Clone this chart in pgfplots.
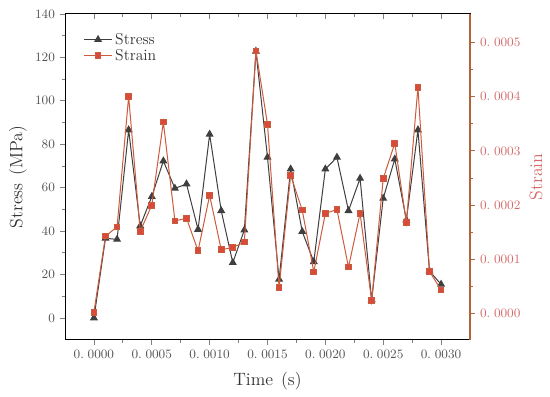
\documentclass[border=0pt]{standalone}
\usepackage{pgfplots}
\usepackage{pgfplotstable}
\pgfplotsset{compat=1.18}
\usetikzlibrary{calc}
\definecolor{stresscol}{HTML}{3F3F3F}
\definecolor{straincol}{HTML}{CC5A3C}
\definecolor{strainmk}{HTML}{D84A3A}
\definecolor{raxis}{HTML}{B0643C}
\definecolor{rlab}{HTML}{D46A6A}
\definecolor{ticklab}{HTML}{555555}

\pgfplotstableread{
t s
0.0000 0
0.0001 36.7
0.0002 36.2
0.0003 86.6
0.0004 42.4
0.0005 55.9
0.0006 72.3
0.0007 59.7
0.0008 61.7
0.0009 40.8
0.0010 84.6
0.0011 49.4
0.0012 25.5
0.0013 40.5
0.0014 122.8
0.0015 74.0
0.0016 17.8
0.0017 68.6
0.0018 39.8
0.0019 25.9
0.0020 68.6
0.0021 74.0
0.0022 49.4
0.0023 64.3
0.0024 8.3
0.0025 55.1
0.0026 73.2
0.0027 45.1
0.0028 86.6
0.0029 21.6
0.0030 15.5
}\stresstable

\pgfplotstableread{
t e
0.0000 0.000003
0.0001 0.000143
0.0002 0.000160
0.0003 0.000400
0.0004 0.000152
0.0005 0.000200
0.0006 0.000353
0.0007 0.000171
0.0008 0.000176
0.0009 0.000116
0.0010 0.000218
0.0011 0.000118
0.0012 0.000122
0.0013 0.000132
0.0014 0.000484
0.0015 0.000349
0.0016 0.000048
0.0017 0.000255
0.0018 0.000191
0.0019 0.000077
0.0020 0.000185
0.0021 0.000192
0.0022 0.000086
0.0023 0.000185
0.0024 0.000024
0.0025 0.000249
0.0026 0.000314
0.0027 0.000168
0.0028 0.000417
0.0029 0.000078
0.0030 0.000044
}\straintable

\pgfplotsset{
  common/.style={
    width=283.5pt, height=228pt, scale only axis,
    xmin=-0.00025, xmax=0.00325,
    xtick={0,0.0005,0.001,0.0015,0.002,0.0025,0.003},
    minor x tick num=1,
    scaled x ticks=false,
    xticklabel style={/pgf/number format/fixed, /pgf/number format/fixed zerofill, /pgf/number format/precision=4, /pgf/number format/set decimal separator={.\;}},
    major tick length=3.5pt, minor tick length=2pt,
    tick style={line width=0.6pt},
    axis line style={line width=0.7pt},
    tick label style={font=\fontsize{9.5}{11}\selectfont, text=ticklab},
  }
}

\begin{document}
\begin{tikzpicture}
\begin{axis}[common,
  ymin=-10, ymax=140,
  ytick={0,20,...,140}, minor y tick num=1,
  xtick pos=bottom, ytick pos=left,
  tick align=outside,
  xlabel={Time\hspace{0.45em}(s)}, ylabel={Stress\hspace{0.45em}(MPa)},
  label style={font=\fontsize{12.5}{14}\selectfont, text=black!80},
  xlabel style={at={(axis description cs:0.5,-0.128)}, anchor=center},
  ylabel style={at={(axis description cs:-0.116,0.5)}, anchor=center},
  legend style={at={(0.035,0.96)}, anchor=north west, draw=none, fill=none,
    font=\fontsize{11}{12}\selectfont, text=black!80, row sep=-2pt},
  legend cell align=left,
  legend image code/.code={\draw[mark repeat=2,mark phase=2] plot coordinates {(0cm,0cm) (0.34cm,0cm) (0.68cm,0cm)};},
]
\addplot[stresscol, line width=0.7pt, mark=triangle*, mark size=2.6pt,
  mark options={fill=stresscol, solid}] table[x=t, y=s] {\stresstable};
\addlegendentry{Stress}
\addlegendimage{straincol, line width=0.7pt, mark=square*, mark size=2pt,
  mark options={fill=strainmk, draw=straincol, solid}}
\addlegendentry{Strain}
\end{axis}

\begin{axis}[common,
  ymin=-0.0000477, ymax=0.000552,
  axis y line*=right, axis x line=none,
  ytick={0,0.0001,0.0002,0.0003,0.0004,0.0005}, minor y tick num=1,
  scaled y ticks=false,
  tick align=outside,
  y axis line style={color=raxis, line width=0.8pt},
  ytick style={color=raxis},
  yticklabel style={/pgf/number format/fixed, /pgf/number format/fixed zerofill, /pgf/number format/precision=4, /pgf/number format/set decimal separator={.\;}, text=rlab},
  ylabel={Strain},
  ylabel style={font=\fontsize{12.5}{14}\selectfont, text=rlab, at={(axis description cs:1.163,0.5)}, anchor=center},
]
\addplot[straincol, line width=0.7pt, mark=square*, mark size=2pt,
  mark options={fill=strainmk, draw=straincol, solid}] table[x=t, y=e] {\straintable};
\end{axis}

\begin{axis}[common,
  ymin=-10, ymax=140,
  axis x line*=top, axis y line=none,
  xticklabels={}, tick align=inside,
]
\coordinate (bl) at (rel axis cs:0,0);
\coordinate (tr) at (rel axis cs:1,1);
\end{axis}
\pgfresetboundingbox
\path[use as bounding box] ($(bl)+(-45.5pt,-40pt)$) rectangle ($(tr)+(56pt,9.8pt)$);
\end{tikzpicture}
\end{document}
